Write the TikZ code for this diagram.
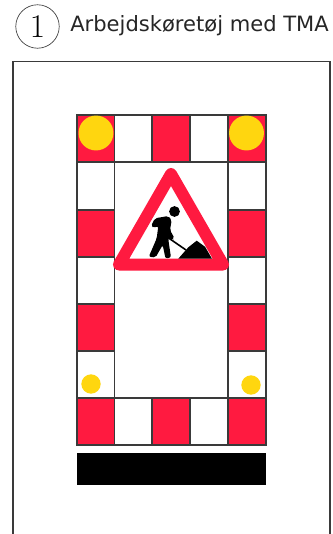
\documentclass[tikz,border=0pt]{standalone}
\usepackage{fontspec}
\setmainfont{DejaVu Sans}
\usepackage{xcolor}
\definecolor{signred}{HTML}{FF1A40}
\definecolor{lampyellow}{HTML}{FFD60F}
\definecolor{rimgray}{HTML}{3A3A3A}
\usetikzlibrary{positioning}
\tikzset{
    redcell/.style = {draw=rimgray, fill=signred, line width=0.8pt},
    whitecell/.style = {draw=rimgray, fill=white, line width=0.8pt},
    lamp/.style = {circle, fill=lampyellow, inner sep=0pt},
    worker/.style = {fill=black, draw=none},
}

\begin{document}
\begin{tikzpicture}[x=0.75pt, y=-0.75pt]
        \useasboundingbox (0,0) rectangle (332,534);
        \node[circle, draw=rimgray, line width=0.5pt, minimum size=32.6pt, inner sep=0pt, font=\fontsize{25}{25}\selectfont] (num) at (37.5,26.5) {$1$};
        \node[anchor=west, inner sep=0pt, font=\fontsize{15.8}{18}\selectfont, text=black!85] (title) at (70,25.5) {Arbejdskøretøj med TMA};
        \draw[rimgray, line width=0.9pt] (13,534) -- (13,61.5) -- (330,61.5) -- (330,534);
        % top and bottom rows
        \foreach \xa/\xb/\kind in {77/114.5/redcell, 114.5/152/whitecell, 152/190/redcell, 190/228/whitecell, 228/266/redcell} {
            \draw[\kind] (\xa,115) rectangle (\xb,162);
            \draw[\kind] (\xa,398) rectangle (\xb,445);
        }
        % side columns
        \foreach \ya/\yb/\kind in {162/210/whitecell, 210/257/redcell, 257/304/whitecell, 304/351/redcell, 351/398/whitecell} {
            \draw[\kind] (77,\ya) rectangle (114.5,\yb);
            \draw[\kind] (228,\ya) rectangle (266,\yb);
        }
        \draw[whitecell] (114.5,162) rectangle (228,398);
        \fill[black] (77,453) rectangle (266,485);
        % lamps
        \node[lamp, minimum size=26.2pt] (lampa) at (96,133) {};
        \node[lamp, minimum size=26.2pt] (lampb) at (246.5,133) {};
        \node[lamp, minimum size=14.5pt] (lampc) at (91,384) {};
        \node[lamp, minimum size=14.5pt] (lampd) at (251,385) {};
        % sign
        \draw[signred, fill=white, line width=9pt, line join=round] (171,174) -- (119,264.5) -- (223,264.5) -- cycle;
        \fill[worker] (174.5,211.5) circle (5.4);
        \fill[worker, rounded corners=1.5] (151,226) -- (155,218.3) -- (168.3,216) -- (171.7,220) -- (170,230) -- (174.5,238.3) -- (172,240.5) -- (168.5,237) -- (168.5,241) -- (171,257.5) -- (165.5,258.5) -- (162.7,245) -- (155.5,257.5) -- (148.8,256.7) -- (156.7,238.3) -- (158.3,226) -- (153.5,228) -- cycle;
        \draw[black, line width=1.2pt] (165.7,236) -- (186,250);
        \fill[worker] (178.3,258.7) -- (188.3,247.3) -- (196.7,240.7) -- (205,246.7) -- (212,258.7) -- cycle;
\end{tikzpicture}
\end{document}
